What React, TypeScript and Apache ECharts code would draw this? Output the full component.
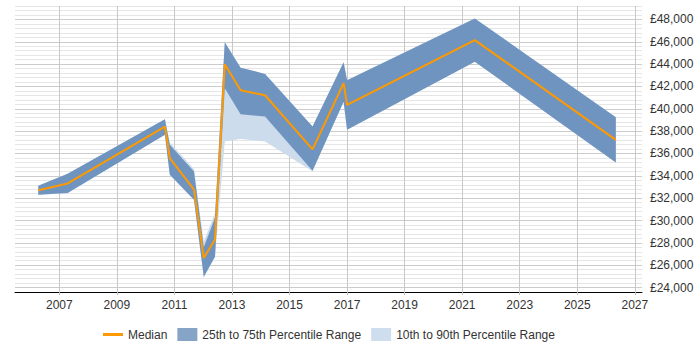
import React, { useEffect, useRef } from "react";
import * as echarts from "echarts";

const years = [2006.27, 2007.29, 2010.67, 2010.84, 2011.68, 2012.02, 2012.41, 2012.75, 2013.3, 2014.15, 2015.8, 2016.88, 2017.0, 2021.44, 2026.34];
const median = [32700, 33320, 38410, 35590, 32760, 26640, 28300, 43980, 41660, 41210, 36360, 42290, 40350, 46150, 37220];
const p25 = [32310, 32460, 37670, 34100, 31860, 24960, 26760, 41840, 39520, 39300, 34450, 40640, 38120, 44210, 35200];
const p75 = [33120, 34190, 39070, 36780, 34390, 27600, 30240, 45950, 43680, 43120, 38410, 44160, 42550, 48090, 39250];
const p10 = [32310, 32460, 37670, 34100, 31860, 24870, 26760, 37070, 37290, 37070, 34400, 40640, 38120, 44210, 35200];
const p90 = [33120, 34190, 39070, 36980, 34610, 28100, 30680, 45950, 43680, 43120, 38410, 44160, 42550, 48090, 39250];
const xTicks = [2007, 2009, 2011, 2013, 2015, 2017, 2019, 2021, 2023, 2025, 2027];
const legendNames = ["Median", "25th to 75th Percentile Range", "10th to 90th Percentile Range"];

const FONT = "'Liberation Sans', Arial, sans-serif";

function bandSeries(name: string, lo: number[], hi: number[], color: string, z: number) {
  return {
    name,
    type: "custom",
    z,
    silent: true,
    itemStyle: { color },
    data: [[years[0], lo[0]]],
    renderItem: (_params: any, api: any) => {
      const pts: number[][] = [];
      for (let i = 0; i < years.length; i++) pts.push(api.coord([years[i], hi[i]]));
      for (let i = years.length - 1; i >= 0; i--) pts.push(api.coord([years[i], lo[i]]));
      return { type: "polygon", shape: { points: pts }, style: { fill: color } };
    },
  };
}

export default function App() {
  const ref = useRef<HTMLDivElement>(null);
  useEffect(() => {
    document.body.style.margin = "0";
    if (!ref.current) return;
    const chart = echarts.init(ref.current, null, { renderer: "svg" });
    const pair = (a: number[]) => years.map((x, i) => [x, a[i]]);
    const minor = "#e6e6e6";
    const major = "#cccccc";
    chart.setOption({
      animation: false,
      textStyle: { fontFamily: FONT },
      grid: { left: 15, right: 58, top: 6, bottom: 58, containLabel: false },
      legend: {
        left: 103,
        top: 328,
        padding: 0,
        itemWidth: 20,
        itemHeight: 13,
        itemGap: 10,
        textStyle: { fontSize: 12, color: "#333", fontFamily: FONT },
        data: [
          { name: legendNames[0], icon: "path://M0,0H20V3H0Z", itemStyle: { color: "#ff9900" } },
          { name: legendNames[1], icon: "rect", itemStyle: { color: "#86a4c6" } },
          { name: legendNames[2], icon: "rect", itemStyle: { color: "#cfdeee" } },
        ],
      },
      xAxis: {
        type: "value",
        min: 2005.46,
        max: 2027.25,
        axisLine: { show: true, onZero: false, lineStyle: { color: "#000", width: 1 } },
        axisTick: { show: true, length: 3, customValues: xTicks, lineStyle: { color: "#bbb" } },
        axisLabel: {
          customValues: xTicks,
          margin: 7,
          fontSize: 12,
          color: "#333",
          fontFamily: FONT,
          formatter: (v: number) => String(Math.round(v)),
        },
        splitLine: { show: true, lineStyle: { color: "#c8c8c8", width: 1 } },
      },
      yAxis: {
        type: "value",
        position: "right",
        min: 23600,
        max: 49200,
        interval: 400,
        axisLine: { show: false },
        axisTick: { show: false },
        axisLabel: {
          margin: 8,
          fontSize: 12,
          color: "#333",
          fontFamily: FONT,
          formatter: (v: number) =>
            Math.round(v) % 2000 === 0 ? "£" + Math.round(v).toLocaleString("en-GB") : "",
        },
        splitLine: { show: true, lineStyle: { color: [minor, major, minor, minor, minor], width: 1 } },
      },
      series: [
        bandSeries(legendNames[2], p10, p90, "#cddcec", 2),
        bandSeries(legendNames[1], p25, p75, "#6f94bf", 3),
        {
          name: legendNames[0],
          type: "line",
          data: pair(median),
          symbol: "none",
          itemStyle: { color: "#ff9900" },
          lineStyle: { color: "#ff9900", width: 2 },
          z: 5,
        },
      ],
    });
    return () => chart.dispose();
  }, []);
  return <div ref={ref} style={{ width: 700, height: 350 }} />;
}
